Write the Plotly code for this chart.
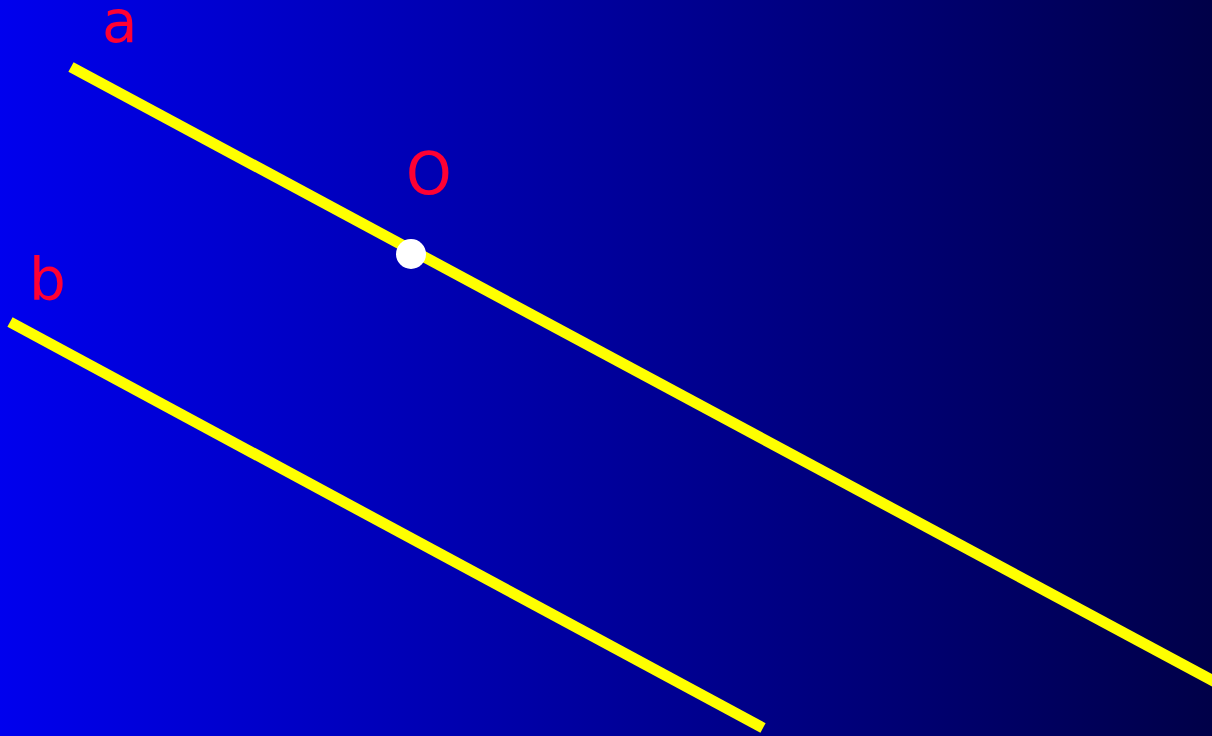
import plotly.graph_objects as go

# canvas in pixel-like units (y grows downward)
canvas_x = [0, 1212, 1212, 0, 0]
canvas_y = [0, 0, 736, 736, 0]
bg_colors = ["#0000ee", "#000048"]

line_a_x = [71, 1230]
line_a_y = [67, 690]
line_b_x = [10, 763]
line_b_y = [322, 728]

point_o = (411, 254)

label_text = ["a", "O", "b"]
label_x = [120, 429, 47]
label_y = [58, 210, 316]

RED = "#ff0033"
YELLOW = "#ffff00"

fig = go.Figure()

fig.add_trace(
    go.Scatter(
        x=canvas_x,
        y=canvas_y,
        mode="lines",
        line=dict(width=0),
        fill="toself",
        fillgradient=dict(
            type="horizontal",
            colorscale=[[0, bg_colors[0]], [1, bg_colors[1]]],
        ),
        hoverinfo="skip",
        showlegend=False,
    )
)

for xs, ys in [(line_a_x, line_a_y), (line_b_x, line_b_y)]:
    fig.add_trace(
        go.Scatter(
            x=xs,
            y=ys,
            mode="lines",
            line=dict(color=YELLOW, width=11),
            hoverinfo="skip",
            showlegend=False,
        )
    )

fig.add_trace(
    go.Scatter(
        x=[point_o[0]],
        y=[point_o[1]],
        mode="markers",
        marker=dict(color="white", size=30),
        hoverinfo="skip",
        showlegend=False,
    )
)

for txt, lx, ly in zip(label_text, label_x, label_y):
    fig.add_annotation(
        x=lx,
        y=ly,
        text=txt,
        showarrow=False,
        xanchor="center",
        yanchor="bottom",
        font=dict(family="DejaVu Sans", size=58, color=RED),
    )

fig.update_layout(
    width=1212,
    height=736,
    margin=dict(l=0, r=0, t=0, b=0),
    paper_bgcolor="#000080",
    plot_bgcolor="#000080",
    showlegend=False,
)
fig.update_xaxes(range=[0, 1212], visible=False, fixedrange=True)
fig.update_yaxes(range=[736, 0], visible=False, fixedrange=True)

# drop the page's default body margin so the chart sits at the window corner
fig.write_html(
    "out.html",
    config=dict(displayModeBar=False),
    post_script="document.body.style.margin='0';document.body.style.overflow='hidden';",
)
